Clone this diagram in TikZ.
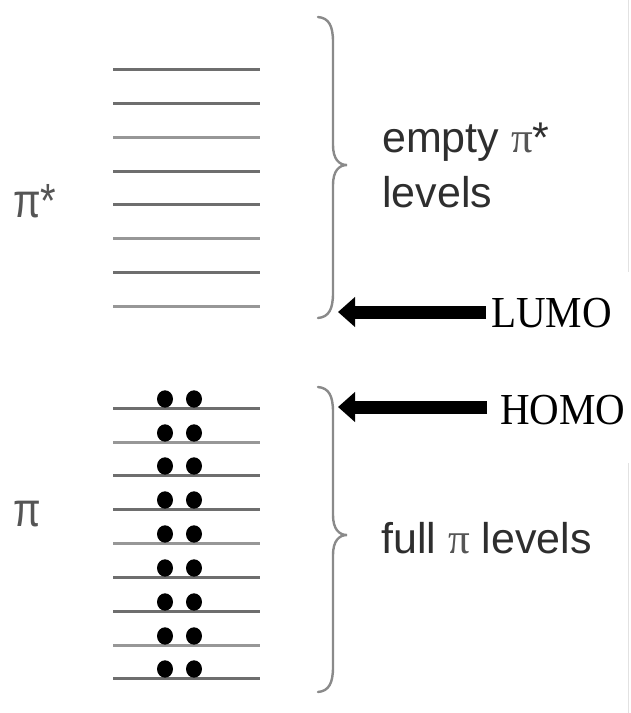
\documentclass[tikz,border=0pt]{standalone}
\usepackage{fontspec}
\setmainfont{Liberation Sans}
\newfontfamily\timesf{Liberation Serif}
\usepackage{graphicx}
\usetikzlibrary{arrows.meta}
\definecolor{txtgray}{HTML}{2E2E2E}
\definecolor{pigray}{HTML}{555555}
\definecolor{lvA}{HTML}{6E6E6E}
\definecolor{lvB}{HTML}{979797}
\definecolor{braceg}{HTML}{8A8A8A}
\definecolor{edgeg}{HTML}{E2E2E2}
\begin{document}
\begin{tikzpicture}[x=1pt,y=-1pt,
  level/.style={line width=3pt},
  brace/.style={draw=braceg, line width=2.4pt, line cap=round},
  bigarrow/.style={draw=black, line width=13pt, -{Triangle[length=17pt,width=29pt]}},
  lbl/.style={inner sep=0pt, anchor=base west, text=txtgray},
  tag/.style={inner sep=0pt, anchor=base west, text=black}]
\useasboundingbox (0,0) rectangle (630,713);
% faint right edge
\draw[edgeg, line width=1pt] (628,0) -- (628,272);
\draw[edgeg, line width=1pt] (628,463) -- (628,713);
% pi* levels
\foreach \y/\c in {69/lvA,103/lvA,137/lvB,171/lvA,204/lvA,238/lvB,272/lvA,306/lvB}
  \draw[level, draw=\c] (113,\y) -- (260,\y);
% pi levels
\foreach \y/\c in {408/lvA,442/lvB,475/lvA,509/lvA,543/lvB,577/lvA,611/lvA,645/lvB,678/lvA}{
  \draw[level, draw=\c] (113,\y) -- (260,\y);
  \fill (165,{\y-9}) ellipse [x radius=8, y radius=8.7];
  \fill (194,{\y-9}) ellipse [x radius=8, y radius=8.7];
}
% braces
\draw[brace] (318,17) .. controls (329,18) and (333,26) .. (333,42) -- (333,145)
  .. controls (333,159) and (339,165) .. (347,165)
  .. controls (339,165) and (333,171) .. (333,185) -- (333,293)
  .. controls (333,309) and (329,317) .. (318,318);
\draw[brace] (318,387) .. controls (329,388) and (333,396) .. (333,412) -- (333,515)
  .. controls (333,529) and (339,535) .. (347,535)
  .. controls (339,535) and (333,541) .. (333,555) -- (333,667)
  .. controls (333,683) and (329,691) .. (318,692);
% labels
\node[lbl, text=pigray] (pistar) at (13,217) {\scalebox{1}[1.2]{\fontsize{40}{48}\selectfont π*}};
\node[lbl, text=pigray] (pi) at (13,526) {\scalebox{1}[1.2]{\fontsize{40}{48}\selectfont π}};
\node[lbl] (empty) at (382,152) {\fontsize{43}{52}\selectfont empty {\timesf\color{pigray}π}*};
\node[lbl] (levels) at (382,207) {\fontsize{43}{52}\selectfont levels};
\node[lbl] (full) at (381,553) {\fontsize{43}{52}\selectfont full {\timesf\color{pigray}π} levels};
\node[tag] (lumo) at (491,327) {\scalebox{1}[1.08]{\timesf\fontsize{41}{48}\selectfont LUMO}};
\node[tag] (homo) at (500,424) {\scalebox{1}[1.08]{\timesf\fontsize{41}{48}\selectfont HOMO}};
% arrows
\coordinate (lumotip) at (338,312);
\coordinate (homotip) at (338,407);
\draw[bigarrow] ([xshift=-5pt]lumo.west |- lumotip) -- (lumotip);
\draw[bigarrow] ([xshift=-13pt]homo.west |- homotip) -- (homotip);
\end{tikzpicture}
\end{document}
